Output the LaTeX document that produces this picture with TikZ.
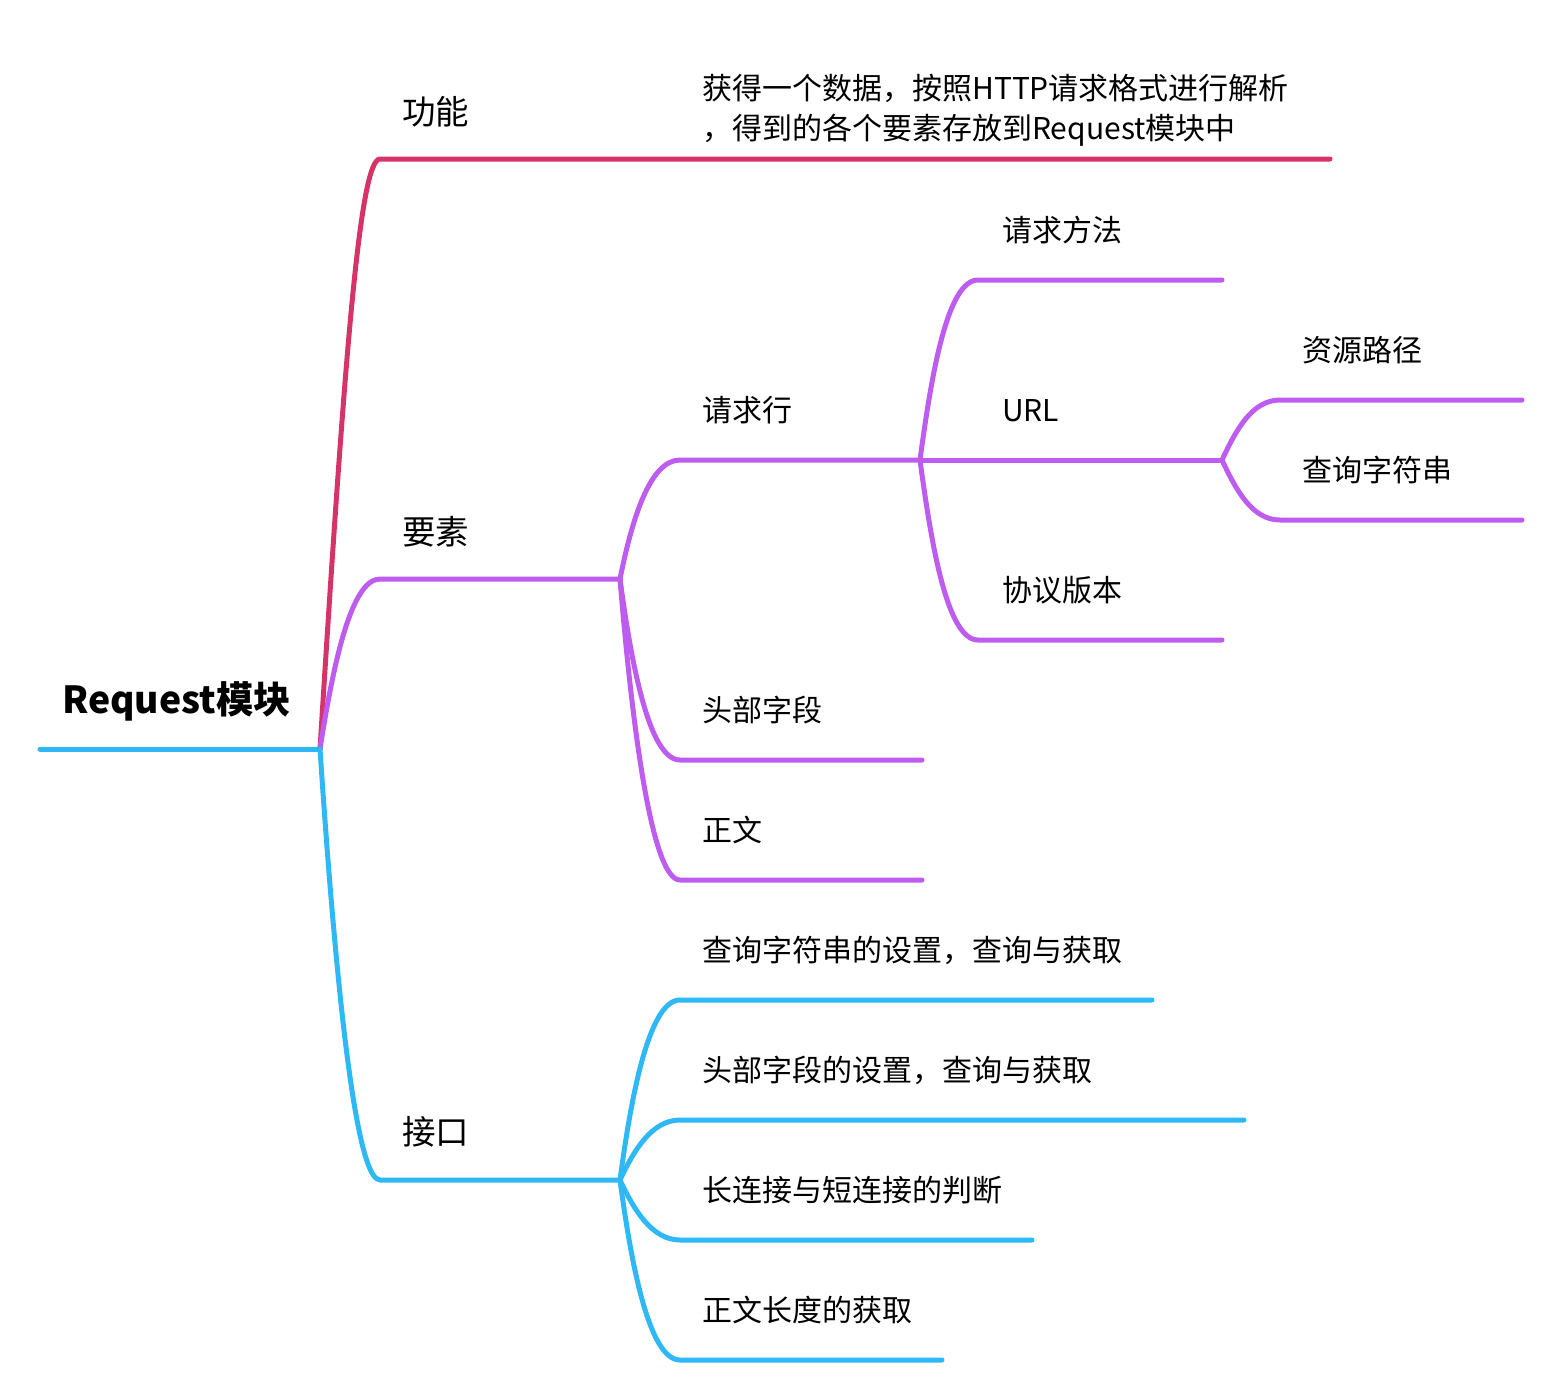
\documentclass[tikz,border=0pt]{standalone}
\usepackage{fontspec}
\setmainfont{Noto Sans CJK SC}
\definecolor{cpink}{RGB}{214,52,105}
\definecolor{cpurple}{RGB}{190,92,240}
\definecolor{cblue}{RGB}{46,184,245}
\begin{document}
\begin{tikzpicture}[x=1pt,y=-1pt, line cap=round, line join=round,
  br/.style={line width=5pt},
  lbl/.style={anchor=base west, inner sep=0pt, font=\fontsize{30}{40}\selectfont},
  lbla/.style={anchor=base west, inner sep=0pt, font=\fontsize{33.5}{40}\selectfont},
  rootlbl/.style={anchor=base west, inner sep=0pt, font=\fontsize{37.3}{44}\selectfont\bfseries}]
\useasboundingbox (0,0) rectangle (1561,1400);
% coordinates
\coordinate (rs) at (40,749);
\coordinate (root) at (320,749);
\coordinate (gn) at (380,159); \coordinate (gnE) at (1330,159);
\coordinate (ys) at (380,579); \coordinate (ysE) at (620,579);
\coordinate (jk) at (380,1180); \coordinate (jkE) at (620,1180);
\coordinate (qh) at (680,460); \coordinate (qhE) at (920,460);
\coordinate (tb) at (680,760); \coordinate (tbE) at (922,760);
\coordinate (zw) at (680,880); \coordinate (zwE) at (922,880);
\coordinate (ff) at (978,280); \coordinate (ffE) at (1222,280);
\coordinate (urlE) at (1222,460);
\coordinate (xy) at (978,640); \coordinate (xyE) at (1222,640);
\coordinate (lj) at (1280,400); \coordinate (ljE) at (1522,400);
\coordinate (cx) at (1280,520); \coordinate (cxE) at (1522,520);
\coordinate (i1) at (680,1000); \coordinate (i1E) at (1152,1000);
\coordinate (i2) at (680,1120); \coordinate (i2E) at (1244,1120);
\coordinate (i3) at (680,1240); \coordinate (i3E) at (1032,1240);
\coordinate (i4) at (680,1360); \coordinate (i4E) at (942,1360);
% root
\draw[br, cblue] (rs) -- (root);
\node[rootlbl] (tRoot) at (62,713) {Request模块};
% 功能
\draw[br, cpink] (root) .. controls +(25,-400) and +(-20,0) .. (gn) -- (gnE);
\node[lbla] (tGn) at (402,124) {功能};
\node[anchor=west, inner sep=0pt, align=left, font=\fontsize{30}{40}\selectfont] (tGnD) at (702,110)
  {获得一个数据，按照HTTP请求格式进行解析\\，得到的各个要素存放到Request模块中};
% 要素
\draw[br, cpurple] (root) .. controls +(14,-90) and +(-28,0) .. (ys) -- (ysE);
\node[lbla] (tYs) at (402,544) {要素};
\draw[br, cpurple] (ysE) .. controls +(12,-60) and +(-30,0) .. (qh) -- (qhE);
\node[lbl] (tQh) at (702,421) {请求行};
\draw[br, cpurple] (ysE) .. controls +(12,90) and +(-30,0) .. (tb) -- (tbE);
\node[lbl] (tTb) at (702,721) {头部字段};
\draw[br, cpurple] (ysE) .. controls +(14,170) and +(-26,0) .. (zw) -- (zwE);
\node[lbl] (tZw) at (702,841) {正文};
\draw[br, cpurple] (qhE) .. controls +(12,-90) and +(-30,0) .. (ff) -- (ffE);
\node[lbl] (tFf) at (1002,241) {请求方法};
\draw[br, cpurple] (qhE) -- (urlE);
\node[lbl] (tUrl) at (1002,421) {URL};
\draw[br, cpurple] (qhE) .. controls +(12,90) and +(-30,0) .. (xy) -- (xyE);
\node[lbl] (tXy) at (1002,601) {协议版本};
\draw[br, cpurple] (urlE) .. controls +(14,-30) and +(-28,0) .. (lj) -- (ljE);
\node[lbl] (tLj) at (1302,361) {资源路径};
\draw[br, cpurple] (urlE) .. controls +(14,30) and +(-28,0) .. (cx) -- (cxE);
\node[lbl] (tCx) at (1302,481) {查询字符串};
% 接口
\draw[br, cblue] (root) .. controls +(20,300) and +(-20,0) .. (jk) -- (jkE);
\node[lbla] (tJk) at (402,1144) {接口};
\draw[br, cblue] (jkE) .. controls +(12,-90) and +(-30,0) .. (i1) -- (i1E);
\node[lbl] (tI1) at (702,961) {查询字符串的设置，查询与获取};
\draw[br, cblue] (jkE) .. controls +(14,-30) and +(-28,0) .. (i2) -- (i2E);
\node[lbl] (tI2) at (702,1081) {头部字段的设置，查询与获取};
\draw[br, cblue] (jkE) .. controls +(14,30) and +(-28,0) .. (i3) -- (i3E);
\node[lbl] (tI3) at (702,1201) {长连接与短连接的判断};
\draw[br, cblue] (jkE) .. controls +(12,90) and +(-30,0) .. (i4) -- (i4E);
\node[lbl] (tI4) at (702,1321) {正文长度的获取};
\end{tikzpicture}
\end{document}
